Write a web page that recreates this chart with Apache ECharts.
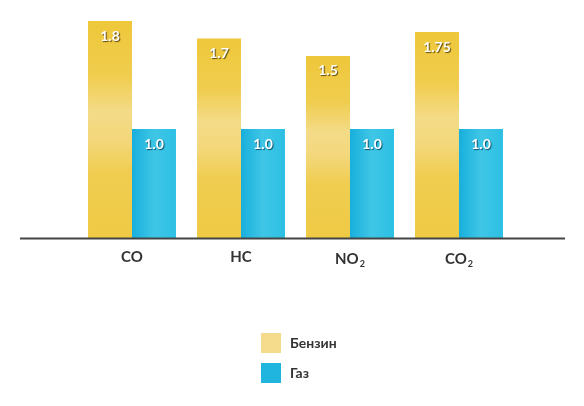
<!DOCTYPE html>
<html><head><meta charset="utf-8">
<script src="https://cdn.jsdelivr.net/npm/echarts@6/dist/echarts.min.js"></script>
<style>html,body{margin:0;padding:0;background:#fff}#c{width:584px;height:406px}</style>
</head><body><div id="c"></div>
<script>
var categories = ['CO', 'HC', 'NO2', 'CO2'];
var seriesNames = ['Бензин', 'Газ'];
var petrolHeights = [1.99, 1.83, 1.67, 1.89];
var petrolLabels = ['1.8', '1.7', '1.5', '1.75'];
var gasHeights = [1.0, 1.0, 1.0, 1.0];
var gasLabels = ['1.0', '1.0', '1.0', '1.0'];

var chart = echarts.init(document.getElementById('c'), null, {renderer: 'canvas'});

var goldFill = new echarts.graphic.LinearGradient(0, 0, 0, 1, [
  {offset: 0, color: '#eec73a'},
  {offset: 0.25, color: '#f0cd4e'},
  {offset: 0.42, color: '#f4db88'},
  {offset: 0.55, color: '#f3d77a'},
  {offset: 0.7, color: '#f0cd50'},
  {offset: 1, color: '#efca45'}
]);
var blueFill = new echarts.graphic.LinearGradient(0, 0, 1, 0, [
  {offset: 0, color: '#18afdc'},
  {offset: 0.5, color: '#3fc6e6'},
  {offset: 1, color: '#2cc0e4'}
]);

var labelStyle = {
  show: true,
  position: 'insideTop',
  distance: 8,
  color: '#ffffff',
  fontFamily: 'Lato',
  fontWeight: 'bold',
  fontSize: 14,
  textShadowColor: 'rgba(60,40,0,0.8)',
  textShadowBlur: 1,
  textShadowOffsetX: 1,
  textShadowOffsetY: 1
};

function labelFmt(arr) {
  return function (p) { return arr[p.dataIndex]; };
}

function catFmt(v) {
  if (/2$/.test(v)) return v.slice(0, -1) + '{sub|2}';
  return v;
}

chart.setOption({
  animation: false,
  backgroundColor: '#ffffff',
  grid: {left: 77.5, width: 436, top: 20, height: 218},
  legend: {
    orient: 'vertical',
    left: 261, top: 333, padding: 0,
    itemWidth: 20, itemHeight: 20, itemGap: 10,
    icon: 'rect',
    textStyle: {fontFamily: 'Lato', fontWeight: 'bold', fontSize: 14, color: '#333333', padding: [0, 0, 0, 4]},
    data: [
      {name: seriesNames[0], itemStyle: {color: '#f4dc8c'}},
      {name: seriesNames[1], itemStyle: {color: '#1fb5df'}}
    ]
  },
  xAxis: {
    type: 'category',
    data: categories,
    axisLine: {show: false},
    axisTick: {show: false},
    axisLabel: {
      margin: 12,
      color: '#333333',
      fontFamily: 'Lato',
      fontSize: 15,
      fontWeight: 'bold',
      formatter: catFmt,
      rich: {sub: {fontSize: 9, color: '#333333', fontFamily: 'Lato', fontWeight: 'bold', padding: [10, 0, 0, 1]}}
    }
  },
  yAxis: {
    type: 'value', min: 0, max: 2,
    show: false,
    splitLine: {show: false}
  },
  series: [
    {
      name: seriesNames[0], type: 'bar', data: petrolHeights,
      barGap: '0%', barCategoryGap: '19.3%',
      itemStyle: {color: goldFill},
      label: Object.assign({}, labelStyle, {formatter: labelFmt(petrolLabels)})
    },
    {
      name: seriesNames[1], type: 'bar', data: gasHeights,
      itemStyle: {color: blueFill},
      label: Object.assign({}, labelStyle, {formatter: labelFmt(gasLabels), textShadowColor: 'rgba(0,50,80,0.8)'})
    }
  ],
  graphic: [{
    type: 'line', z: 10,
    shape: {x1: 20, y1: 238.5, x2: 565, y2: 238.5},
    style: {stroke: '#444444', lineWidth: 2}
  }]
});
</script>
</body></html>
